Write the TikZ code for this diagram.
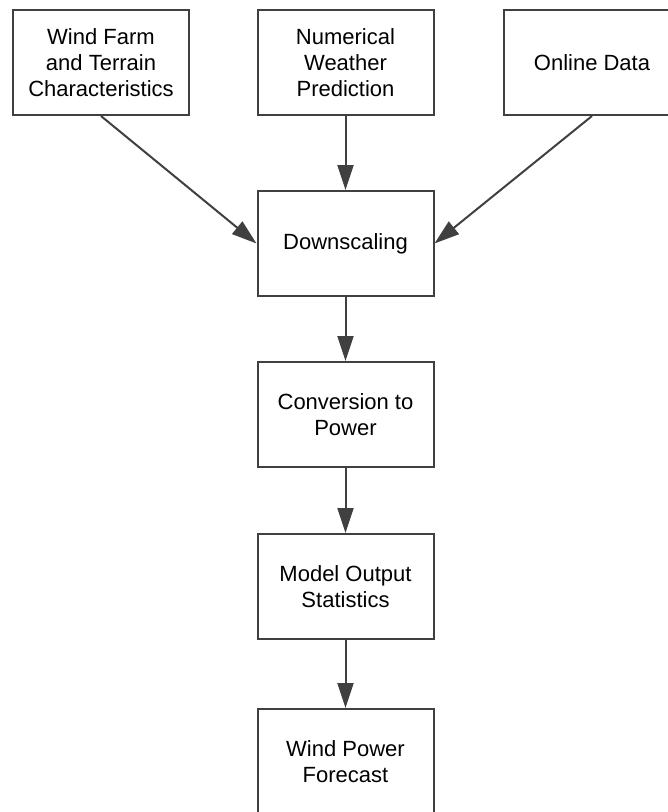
\documentclass[tikz,border=0pt]{standalone}
\usepackage{fontspec}
\setmainfont{Liberation Sans}
\usetikzlibrary{arrows.meta}
\definecolor{ink}{HTML}{404040}
\tikzset{
  procbox/.style={draw=ink, line width=2pt, fill=white, minimum width=176pt,
    minimum height=105pt, align=center, inner sep=0pt,
    font=\fontsize{22}{26}\selectfont, text=black},
  flow/.style={draw=ink, line width=2pt,
    -{Triangle[length=25pt,width=16pt]}, color=ink}
}
\begin{document}
\begin{tikzpicture}[x=1pt,y=-1pt]
  \useasboundingbox (0,0) rectangle (668,812);
  % input sources
  \node[procbox] (wf)  at (101,62.5)   {Wind Farm\\and Terrain\\Characteristics};
  \node[procbox] (nwp) at (345.5,62.5) {Numerical\\Weather\\Prediction};
  \node[procbox] (od)  at (592,62.5)   {Online Data};
  % processing chain
  \node[procbox] (ds)  at (345.5,243.5) {Downscaling};
  \node[procbox] (cp)  at (345.5,414.5) {Conversion to\\Power};
  \node[procbox] (mos) at (345.5,586.5) {Model Output\\Statistics};
  \node[procbox] (wpf) at (345.5,761.5) {Wind Power\\Forecast};
  % connectors
  \draw[flow] (wf.south)  -- (ds.west);
  \draw[flow] (nwp.south) -- (ds.north);
  \draw[flow] (od.south)  -- (ds.east);
  \draw[flow] (ds.south)  -- (cp.north);
  \draw[flow] (cp.south)  -- (mos.north);
  \draw[flow] (mos.south) -- (wpf.north);
\end{tikzpicture}
\end{document}
